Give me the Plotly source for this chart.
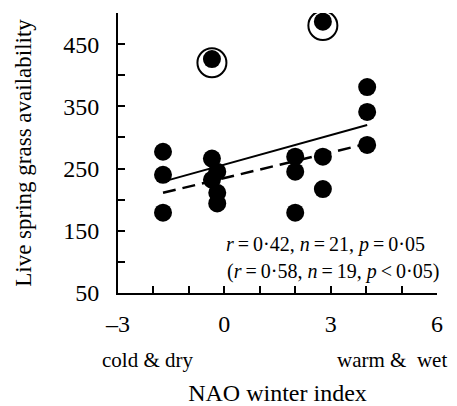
import plotly.graph_objects as go

# Data
nao = [-1.73, -1.73, -1.73, -0.35, -0.2, -0.35, -0.2, -0.2, 2.0, 2.0, 2.0, 2.78, 2.78, 4.03, 4.03, 4.03]
grass = [277, 240, 179, 266, 245, 232, 211, 194, 269, 245, 179, 269, 217, 381, 341, 288]
out_nao = [-0.35, 2.78]
out_grass = [426, 486]

fit_x = [-1.73, 4.03]
fit_all = [229, 320]      # solid: all years (n=21)
fit_excl = [211, 290]     # dashed: outliers excluded (n=19)

x_ticks = [-3, -2, -1, 0, 1, 2, 3, 4, 5, 6]
x_labels = ["–3", "", "", "0", "", "", "3", "", "", "6"]
y_ticks = [50, 100, 150, 200, 250, 300, 350, 400, 450, 500]
y_labels = ["50", "", "150", "", "250", "", "350", "", "450", ""]

FONT = "'Liberation Serif', 'Times New Roman', Times, serif"

# page has an 8px body margin; figure drawn inside it, reaching the window edge
OFF = 8
W, H = 457 - OFF, 406 - OFF
L, T = 118 - OFF, 13 - OFF
R = W - (437 - OFF)
B = H - (293 - OFF)
pw, ph = W - L - R, H - T - B

fig = go.Figure()
fig.add_trace(go.Scatter(x=fit_x, y=fit_all, mode="lines",
                         line=dict(color="black", width=2), hoverinfo="skip"))
fig.add_trace(go.Scatter(x=fit_x, y=fit_excl, mode="lines",
                         line=dict(color="black", width=2.5, dash="13px,7px"), hoverinfo="skip"))
fig.add_trace(go.Scatter(x=nao, y=grass, mode="markers",
                         marker=dict(color="black", size=18, line=dict(width=0))))
fig.add_trace(go.Scatter(x=out_nao, y=out_grass, mode="markers",
                         marker=dict(color="black", size=18, line=dict(width=0))))
fig.add_trace(go.Scatter(x=out_nao, y=[v - 6 for v in out_grass], mode="markers",
                         marker=dict(symbol="circle-open", color="black", size=29,
                                     line=dict(width=2, color="black"))))

fig.update_layout(
    width=W, height=H,
    margin=dict(l=L, r=R, t=T, b=B, autoexpand=False),
    plot_bgcolor="white", paper_bgcolor="white",
    showlegend=False,
    font=dict(family=FONT, color="black", size=24),
    xaxis=dict(range=[-3, 6], showline=True, linecolor="black", linewidth=2,
               ticks="inside", ticklen=7, tickwidth=1.5, tickcolor="black",
               tickvals=x_ticks, ticktext=x_labels, showgrid=False, zeroline=False,
               tickfont=dict(size=24, family=FONT), ticklabelstandoff=8, automargin=False,
               title=dict(text="NAO winter index", font=dict(size=24, family=FONT), standoff=59)),
    yaxis=dict(range=[50, 500], showline=True, linecolor="black", linewidth=2,
               ticks="inside", ticklen=7, tickwidth=1.5, tickcolor="black",
               tickvals=y_ticks, ticktext=y_labels, showgrid=False, zeroline=False,
               tickfont=dict(size=24, family=FONT), ticklabelstandoff=12, automargin=False,
               title=dict(text="Live spring grass availability", font=dict(size=23, family=FONT), standoff=25)),
)

def px_to_paper(xs, ys):
    # screen pixel -> paper coords
    return (xs - OFF - L) / pw, (H - B - (ys - OFF)) / ph

for txt, (xp, yp), sz in [
    ("cold &amp; dry", (147, 360), 21),
    ("warm &amp;&nbsp; wet", (392, 360), 21),
    ("<i>r</i>\u2009=\u20090·42, <i>n</i>\u2009=\u200921, <i>p</i>\u2009=\u20090·05", (325, 244), 20),
    ("(<i>r</i>\u2009=\u20090·58, <i>n</i>\u2009=\u200919, <i>p</i>\u2009<\u20090·05)", (333, 271), 20),
]:
    xx, yy = px_to_paper(xp, yp)
    fig.add_annotation(text=txt, x=xx, y=yy, xref="paper", yref="paper",
                       showarrow=False, font=dict(size=sz, family=FONT),
                       xanchor="center", yanchor="middle")

fig.write_html("out.html")
